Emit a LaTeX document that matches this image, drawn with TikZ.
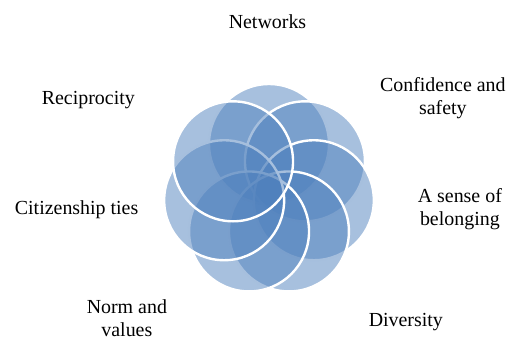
\documentclass[tikz,border=0pt]{standalone}
\usepackage{fontspec}
\setmainfont{Liberation Serif}

\definecolor{ringblue}{RGB}{79,129,189}

\tikzset{
  ring/.style={fill=ringblue, fill opacity=0.5, draw=white, line width=1.8pt},
  lbl/.style={font=\fontsize{15}{17}\selectfont, align=center}
}

\begin{document}
\begin{tikzpicture}
\useasboundingbox (-7.117,-3.969) rectangle (6.429,5.027);

% seven rings, clockwise from the top
\foreach \a in {90,38.57,-12.86,-64.29,-115.71,-167.14,-218.57}
  \draw[ring] (\a:1.217) circle (1.587);

\node[lbl] (net) at (-0.04,4.44) {Networks};
\node[lbl] (conf) at (4.6,2.43) {Confidence and\\safety};
\node[lbl] (sense) at (5.05,-0.50) {A sense of\\belonging};
\node[lbl] (div) at (3.62,-3.49) {Diversity};
\node[lbl] (norm) at (-3.76,-3.39) {Norm and\\values};
\node[lbl] (cit) at (-5.09,-0.53) {Citizenship ties};
\node[lbl] (recip) at (-4.78,2.38) {Reciprocity};

\end{tikzpicture}
\end{document}
